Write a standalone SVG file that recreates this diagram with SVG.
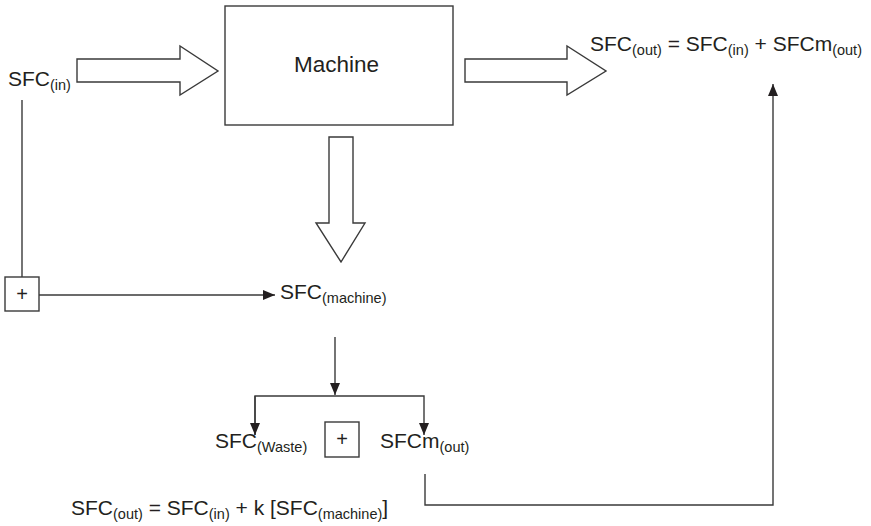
<svg xmlns="http://www.w3.org/2000/svg" width="871" height="526" viewBox="0 0 871 526">
<style>
.t{font-family:"Liberation Sans",Arial,sans-serif;font-size:21px;fill:#231f20}
.s{font-size:14.5px}
.m{font-size:22.5px}
.ln{fill:none;stroke:#3a3a3a;stroke-width:1.4}
.box{fill:#fff;stroke:#3a3a3a;stroke-width:1.4}
.plus{font-family:"Liberation Sans",Arial,sans-serif;font-size:20px;fill:#231f20;text-anchor:middle}
</style>
<defs>
<marker id="ah" markerWidth="12" markerHeight="10" refX="12" refY="5" orient="auto" markerUnits="userSpaceOnUse">
<path d="M0,0 L12,5 L0,10 Z" fill="#231f20"/>
</marker>
</defs>
<rect width="871" height="526" fill="#fff"/>
<g id="machine">
<rect class="box" x="225" y="6" width="228" height="119"/>
<text class="t m" x="294" y="72">Machine</text>
</g>
<g id="sfc-in">
<text class="t" x="8" y="86">SFC<tspan class="s" dy="4">(in)</tspan></text>
</g>
<g id="sfc-out">
<text class="t" x="590" y="51">SFC<tspan class="s" dy="4">(out)</tspan><tspan dy="-4"> = SFC</tspan><tspan class="s" dy="4">(in)</tspan><tspan dy="-4"> + SFCm</tspan><tspan class="s" dy="4">(out)</tspan></text>
</g>
<g id="sfc-machine">
<text class="t" x="280" y="299">SFC<tspan class="s" dy="4">(machine)</tspan></text>
</g>
<g id="sfc-waste">
<text class="t" x="215" y="448">SFC<tspan class="s" dy="4">(Waste)</tspan></text>
</g>
<g id="sfcm-out">
<text class="t" x="380" y="448">SFCm<tspan class="s" dy="4">(out)</tspan></text>
</g>
<g id="plus-left">
<rect class="box" x="5" y="277" width="34" height="34"/>
<text class="plus" x="22" y="301">+</text>
</g>
<g id="plus-bottom">
<rect class="box" x="325" y="422" width="34" height="35"/>
<text class="plus" x="342" y="446">+</text>
</g>
<g id="formula">
<text class="t" x="71" y="515">SFC<tspan class="s" dy="4">(out)</tspan><tspan dy="-4"> = SFC</tspan><tspan class="s" dy="4">(in)</tspan><tspan dy="-4"> + k [SFC</tspan><tspan class="s" dy="4">(machine)</tspan><tspan dy="-4">]</tspan></text>
</g>
<g id="connectors">
<polygon class="box" points="77,59 180,59 180,46 218,71 180,95 180,82 77,82"/>
<polygon class="box" points="465,59 567,59 567,46 606,71 567,95 567,82 465,82"/>
<polygon class="box" points="329,137 353,137 353,223 365,223 341,262 316,223 329,223"/>
<path class="ln" d="M22,100 V277"/>
<path class="ln" d="M39,295 H275" marker-end="url(#ah)"/>
<path class="ln" d="M335,337 V395" marker-end="url(#ah)"/>
<path class="ln" d="M255,435 V396 H424 V435" marker-end="url(#ah)"/>
<path class="ln" d="M255,396 V435" marker-end="url(#ah)"/>
<path class="ln" d="M425,474 V505 H773 V84" marker-end="url(#ah)"/>
</g>
</svg>
